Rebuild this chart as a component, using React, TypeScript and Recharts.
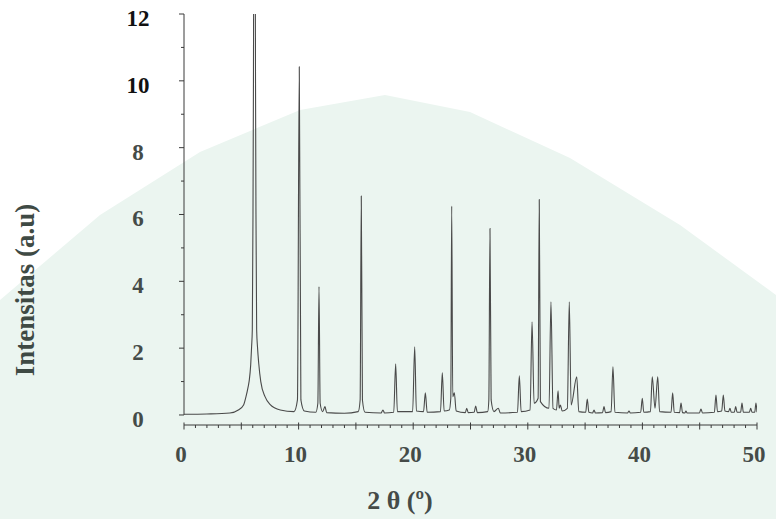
import { LineChart, Line, XAxis, YAxis, ReferenceLine, Label } from 'recharts';

// XRD pattern: 2θ (degrees) and intensity (a.u)
const TWO_THETA = [
  0, 2, 4, 4.74, 5.2, 5.41, 5.6, 5.7, 5.82, 5.9, 5.96, 6.02, 6.06, 6.08, 6.22, 6.24, 6.28, 6.34, 6.42, 6.52, 6.7, 7.07, 7.5, 8.4, 9.6,
  9.9, 10.06, 10.2, 10.5, 11.5, 11.68, 11.78, 11.88, 12.1, 12.3, 12.45, 14.0,
  15.2, 15.37, 15.47, 15.57, 15.8, 17.2, 17.36, 17.5, 18.3, 18.47, 18.62,
  19.95, 20.13, 20.28, 20.9, 21.06, 21.22, 22.38, 22.54, 22.7,
  23.15, 23.28, 23.36, 23.45, 23.59, 23.75, 24.55, 24.67, 24.8, 25.32, 25.45, 25.6,
  26.5, 26.6, 26.7, 26.8, 27.05, 27.43, 27.6, 29.1, 29.26, 29.42,
  30.2, 30.37, 30.55, 30.9, 31.0, 31.1, 31.85, 32.02, 32.2, 32.5, 32.64, 32.74, 32.84, 33.0,
  33.45, 33.62, 33.78, 34.27, 34.45, 35.05, 35.19, 35.33, 35.65, 35.78, 35.9,
  36.52, 36.65, 36.78, 37.27, 37.43, 37.6, 38.7, 38.83, 38.95,
  39.85, 39.99, 40.12, 40.7, 40.86, 41.1, 41.34, 41.5, 42.5, 42.64, 42.78,
  43.25, 43.37, 43.5, 43.7, 43.8, 43.9, 44.98, 45.11, 45.24,
  46.28, 46.42, 46.55, 46.92, 47.06, 47.2, 47.52, 47.64, 47.76, 48.02, 48.14, 48.26,
  48.57, 48.69, 48.81, 49.33, 49.45, 49.57, 49.8, 49.91, 50,
];

const INTENSITY = [
  0.02, 0.03, 0.06, 0.15, 0.3, 0.55, 0.85, 1.05, 1.5, 2.05, 2.55, 6, 10, 13, 13, 10, 6, 2.55, 2.0, 1.55, 1.0, 0.55, 0.32, 0.15, 0.1,
  0.45, 10.42, 0.45, 0.12, 0.08, 0.35, 3.84, 0.35, 0.1, 0.25, 0.07, 0.05,
  0.1, 0.45, 6.55, 0.45, 0.08, 0.06, 0.15, 0.06, 0.08, 1.53, 0.1,
  0.1, 2.04, 0.12, 0.1, 0.66, 0.08, 0.1, 1.26, 0.12,
  0.15, 0.5, 6.25, 0.55, 0.66, 0.12, 0.07, 0.2, 0.07, 0.08, 0.27, 0.07,
  0.1, 0.45, 5.58, 0.45, 0.1, 0.2, 0.06, 0.08, 1.17, 0.1,
  0.15, 2.79, 0.35, 0.5, 6.45, 0.4, 0.2, 3.39, 0.2, 0.15, 0.72, 0.2, 0.3, 0.12,
  0.2, 3.39, 0.3, 1.14, 0.1, 0.08, 0.48, 0.08, 0.06, 0.15, 0.06,
  0.07, 0.25, 0.07, 0.1, 1.44, 0.08, 0.06, 0.12, 0.06,
  0.08, 0.5, 0.08, 0.1, 1.14, 0.2, 1.14, 0.1, 0.08, 0.66, 0.08,
  0.07, 0.36, 0.07, 0.06, 0.12, 0.06, 0.06, 0.18, 0.06,
  0.08, 0.6, 0.1, 0.12, 0.6, 0.12, 0.1, 0.2, 0.08, 0.08, 0.25, 0.08,
  0.08, 0.36, 0.08, 0.08, 0.2, 0.08, 0.08, 0.36, 0.08,
];

const X_TICKS = Array.from({ length: 51 }, (_, i) => i);
const X_LABELS = [0, 10, 20, 30, 40, 50];
const Y_TICKS = [0, 1, 2, 3, 4, 5, 6, 7, 8, 9, 10, 11, 12];
const Y_LABELS = [0, 2, 4, 6, 8, 10, 12];

const data = TWO_THETA.map((x, i) => ({ x, y: INTENSITY[i] }));

const FONT = '"Liberation Serif", "Times New Roman", serif';
const AXIS_COLOR = '#3a3a3a';

function XTick({ x, y, payload }: any) {
  const v = payload.value;
  const major = v % 5 === 0;
  return (
    <g>
      <line x1={x} x2={x} y1={major ? y - 2.5 : y} y2={major ? y + 4.5 : y + 3} stroke={AXIS_COLOR} strokeWidth={1} />
      {X_LABELS.includes(v) && (
        <text x={x - 3} y={y + 37} textAnchor="middle" fontFamily={FONT} fontWeight="bold" fontSize={23} fill="#454b48">
          {v}
        </text>
      )}
    </g>
  );
}

function YTick({ x, y, payload }: any) {
  const v = payload.value;
  const major = v % 2 === 0;
  return (
    <g>
      <line x1={x - (major ? 5 : 3)} x2={x} y1={y} y2={y} stroke={AXIS_COLOR} strokeWidth={1} />
      {Y_LABELS.includes(v) && (
        <text x={x - 46} y={y + 12} textAnchor="middle" fontFamily={FONT} fontWeight="bold" fontSize={23} fill={v >= 10 ? '#111' : '#454b48'}>
          {v}
        </text>
      )}
    </g>
  );
}

const renderXTitle = (props: any) => {
  const vb = props.viewBox;
  return (
    <text x={vb.x + 216} y={vb.y + 84} textAnchor="middle" fontFamily={FONT} fontWeight="bold" fontSize={26} fill="#454b48">
      2 θ (º)
    </text>
  );
};

const renderYTitle = () => (
  <text
    x={34}
    y={290}
    transform="rotate(-90 34 290)"
    textAnchor="middle"
    fontFamily={FONT}
    fontWeight="bold"
    fontSize={27}
    fill="#3f4a44"
  >
    Intensitas (a.u)
  </text>
);

export default function App() {
  return (
    <div style={{ position: 'absolute', left: 0, top: 0, width: 776, height: 519, background: '#fff', overflow: 'hidden' }}>
      <div
        style={{
          position: 'absolute',
          inset: 0,
          background: '#ebf5f0',
          clipPath:
            'polygon(0 300px, 100px 215px, 200px 152px, 300px 110px, 385px 95px, 470px 112px, 570px 158px, 680px 225px, 776px 295px, 776px 519px, 0 519px)',
        }}
      />
      <div style={{ position: 'absolute', left: 0, top: 0 }}>
        <LineChart width={776} height={519} data={data} margin={{ top: 14, right: 19, bottom: 0, left: 0 }}>
          <XAxis
            type="number"
            dataKey="x"
            domain={[0, 50]}
            ticks={X_TICKS}
            interval={0}
            allowDataOverflow
            height={94}
            tickSize={0}
            tickMargin={0}
            tickLine={false}
            axisLine={{ stroke: AXIS_COLOR }}
            tick={<XTick />}
          >
            <Label content={renderXTitle} />
          </XAxis>
          <YAxis
            type="number"
            domain={[-0.3, 12]}
            ticks={Y_TICKS}
            interval={0}
            allowDataOverflow
            width={184}
            tickSize={0}
            tickMargin={0}
            tickLine={false}
            axisLine={false}
            tick={<YTick />}
          >
            <Label content={renderYTitle} />
          </YAxis>
          <ReferenceLine segment={[{ x: 0, y: 0 }, { x: 0, y: 12 }]} stroke={AXIS_COLOR} />
          <Line type="monotone" dataKey="y" stroke="#4a4a4a" strokeWidth={1.1} dot={false} isAnimationActive={false} />
        </LineChart>
      </div>
    </div>
  );
}
